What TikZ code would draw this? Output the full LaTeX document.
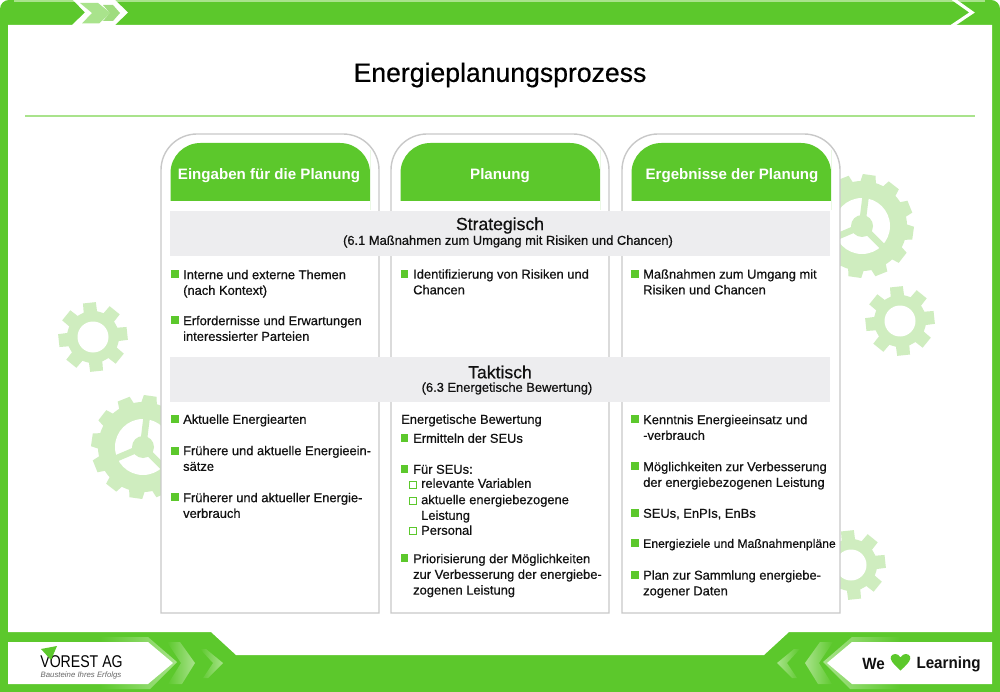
\documentclass[tikz,border=0pt]{standalone}
\usepackage{fontspec}
\setmainfont{Liberation Sans}
\newfontfamily\medfont[FakeBold=0.5]{Liberation Sans}
\usetikzlibrary{positioning,calc}
\definecolor{brand}{HTML}{5CC82C}
\definecolor{brandlight}{HTML}{A9E38C}
\definecolor{brandmid}{HTML}{9FDC7F}
\definecolor{gearpale}{HTML}{CFEDBF}
\definecolor{bandgray}{HTML}{EDEDEF}
\definecolor{linegray}{HTML}{C8C8C8}
\definecolor{ink}{HTML}{111111}
\tikzset{
  card/.style={draw=linegray,line width=1.4pt,fill=white},
  headtext/.style={text=white,font=\fontsize{15.1}{18}\bfseries\selectfont},
  bandbox/.style={fill=bandgray,minimum width=660pt,minimum height=45pt,inner sep=0pt},
  bandhead/.style={text=ink,font=\fontsize{17.6}{20}\medfont\selectfont,inner sep=0pt},
  bandsub/.style={text=ink,font=\fontsize{12.9}{15}\medfont\selectfont,inner sep=0pt},
  item/.style={anchor=north west,align=left,inner sep=0pt,yshift=6.4pt,text=ink,
    font=\fontsize{12.9}{15.7}\medfont\selectfont,execute at begin node=\strut},
  bullet/.style={fill=brand,minimum size=7.5pt,inner sep=0pt},
  subbullet/.style={draw=brand,fill=white,line width=.8pt,minimum size=7.5pt,inner sep=0pt},
}
\newcommand{\gearwheel}[6]{% cx, cy, body, tip, teeth, turn
  \fill[gearpale] (#1,#2) circle[radius=#3];
  \foreach \k in {1,...,#5}{
    \pgfmathsetmacro{\ang}{#6+\k*360/#5}
    \pgfmathsetmacro{\wid}{125/#5}
    \pgfmathsetmacro{\wit}{85/#5}
    \fill[gearpale] ($(#1,#2)+(\ang-\wid:#3-1)$) -- ($(#1,#2)+(\ang-\wit:#4)$)
      -- ($(#1,#2)+(\ang+\wit:#4)$) -- ($(#1,#2)+(\ang+\wid:#3-1)$) -- cycle;
  }
}
\newcommand{\spokewheel}[2]{% cx, cy
  \gearwheel{#1}{#2}{45}{52}{12}{8}
  \fill[white] (#1,#2) circle[radius=28];
  \foreach \a in {-83,45,157}{
    \draw[gearpale,line width=6.5pt] (#1,#2) -- ++(\a:29);
  }
  \fill[gearpale] (#1,#2) circle[radius=11];
}
\begin{document}
\begin{tikzpicture}[x=1pt,y=-1pt]
  \useasboundingbox (0,0) rectangle (1000,692);
  % frame
  \fill[white] (0,0) rectangle (1000,692);
  \fill[brand,rounded corners=9pt] (0,0) -- (1000,0) -- (1000,700) -- (0,700) -- cycle;
  \fill[white] (8,25) -- (992,25) -- (992,632) -- (789,632) -- (764,655) -- (236,655) -- (211,632) -- (8,632) -- cycle;
  \draw[brandlight,line width=1.5pt] (14,.8) -- (985,.8);
  % top chevrons
  \fill[white] (73,0) -- (115,0) -- (128,12.5) -- (115,25) -- (72,25) -- (85,12.5) -- cycle;
  \fill[brandlight] (80,3) -- (98,3) -- (110.5,13) -- (99,23.5) -- (82,23.5) -- (92,13) -- cycle;
  \fill[brandmid] (103,5) -- (113,5) -- (120,13) -- (113,21) -- (103,21) -- (110,13) -- cycle;
  \draw[white,line width=3.2pt] (953,-1) -- (972,12.5) -- (952,26);
  % gears
  \gearwheel{93}{337}{26}{35}{8}{-6}
  \fill[white] (93,337) circle[radius=15.5];
  \spokewheel{143}{447}
  \spokewheel{862}{226}
  \gearwheel{900}{321}{26}{35}{8}{-6}
  \fill[white] (900,321) circle[radius=15.5];
  \gearwheel{851}{565}{26}{35}{8}{-6}
  \fill[white] (851,565) circle[radius=15.5];
  % title
  \node[inner sep=0pt,text=black,font=\fontsize{26.6}{30}\medfont\selectfont] (title) at (500,75) {Energieplanungsprozess};
  \draw[brandlight,line width=1.2pt] (25,116) -- (975,116);
  % columns
  \foreach \x in {161,391,622}{
    \draw[card] (\x,400) [rounded corners=36pt] -- (\x,134) -- (\x+218,134) -- (\x+218,400)
      [sharp corners] -- (\x+218,613) -- (\x,613) -- cycle;
    \fill[brand] (\x+9.5,180) [rounded corners=30pt] -- (\x+9.5,143) -- (\x+209,143) -- (\x+209,180)
      [sharp corners] -- (\x+209,201) -- (\x+9.5,201) -- cycle;
  }
  \node[headtext] (heada) at (269,176) {Eingaben für die Planung};
  \node[headtext] (headb) at (500,176) {Planung};
  \node[headtext] (headc) at (732,176) {Ergebnisse der Planung};
  % bands
  \node[bandbox] (strategic) at (500,233.5) {};
  \node[bandhead] (strategict) at (500,225.5) {Strategisch};
  \node[bandsub] (strategics) at (508,241.5) {(6.1 Maßnahmen zum Umgang mit Risiken und Chancen)};
  \node[bandbox] (tactical) at (500,379.5) {};
  \node[bandhead] (tacticalt) at (500,372) {Taktisch};
  \node[bandsub] (tacticals) at (507,388.5) {(6.3 Energetische Bewertung)};
  % bullets
  \foreach \n/\x/\y in {a/175/274,b/175/320,c/175/419,d/175/451,e/175/497,
    f/404.5/274,g/404.5/438,h/404.5/469,i/404.5/558,
    j/635/274,k/635/419,l/635/466,m/635/513,n/635/543,o/635/575}
    {\node[bullet] (dot\n) at (\x,\y) {};}
  \foreach \n/\y in {p/485,q/501,r/531}
    {\node[subbullet] (box\n) at (413,\y) {};}
  % texts
  \foreach \n/\x/\y/\txt in {
    a/183/276/{Interne und externe Themen\\(nach Kontext)},
    b/183/322/{Erfordernisse und Erwartungen\\interessierter Parteien},
    c/183/419/{Aktuelle Energiearten},
    d/183/452/{Frühere und aktuelle Energieein-\\sätze},
    e/183/499/{Früherer und aktueller Energie-\\verbrauch},
    f/413/275.5/{Identifizierung von Risiken und\\Chancen},
    t/401/419/{Energetische Bewertung},
    g/413/438/{Ermitteln der SEUs},
    h/413/469/{Für SEUs:},
    p/421/483/{relevante Variablen},
    q/421/501/{aktuelle energiebezogene\\Leistung},
    r/421/530/{Personal},
    i/413/560/{Priorisierung der Möglichkeiten\\zur Verbesserung der energiebe-\\zogenen Leistung},
    j/643/275.5/{Maßnahmen zum Umgang mit\\Risiken und Chancen},
    k/643/421/{Kenntnis Energieeinsatz und\\-verbrauch},
    l/643/468/{Möglichkeiten zur Verbesserung\\der energiebezogenen Leistung},
    m/643/513/{SEUs, EnPIs, EnBs},
    n/643/543/{\fontsize{12.2}{15.7}\selectfont Energieziele und Maßnahmenpläne},
    o/643/576.5/{Plan zur Sammlung energiebe-\\zogener Daten}}
    {\node[item] (txt\n) at (\x,\y) {\txt};}
  % footer left
  \shade[left color=brand,right color=brandlight] (100,637) -- (148,637) -- (177,662) -- (150,689) -- (100,689) -- cycle;
  \fill[white] (8,642) -- (148,642) -- (173,663) -- (148,684) -- (8,684) -- cycle;
  \shade[left color=brand,right color=brandlight] (167,642) -- (180,642) -- (195,663) -- (182,684) -- (168,684) -- (181,663) -- cycle;
  \shade[left color=brand,right color=brandlight] (200,649) -- (206,649) -- (223,663) -- (208,678) -- (203,678) -- (213,663) -- cycle;
  \node[inner sep=0pt,text=black,xscale=.83,transform shape,font=\fontsize{17}{20}\selectfont] (vorest) at (81.5,662) {VOREST AG};
  \node[inner sep=0pt,text=black!60,font=\fontsize{7.8}{9}\itshape\selectfont] (claim) at (81,675) {Bausteine Ihres Erfolgs};
  \fill[brand] (41,649) -- (57,646) -- (51,660) -- cycle;
  % footer right
  \shade[right color=brand,left color=brandlight] (900,637) -- (852,637) -- (823,662) -- (850,689) -- (900,689) -- cycle;
  \fill[white] (992,642) -- (852,642) -- (827,663) -- (852,684) -- (992,684) -- cycle;
  \shade[right color=brand,left color=brandlight] (833,642) -- (820,642) -- (805,663) -- (818,684) -- (832,684) -- (819,663) -- cycle;
  \shade[right color=brand,left color=brandlight] (800,649) -- (794,649) -- (777,663) -- (792,678) -- (797,678) -- (787,663) -- cycle;
  \node[inner sep=0pt,text=ink,xscale=.93,transform shape,font=\fontsize{16.3}{20}\bfseries\selectfont] (we) at (873.5,664) {We};
  \node[inner sep=0pt,text=ink,xscale=.93,transform shape,font=\fontsize{16.3}{20}\bfseries\selectfont] (learning) at (948.5,664) {Learning};
  \fill[brand] (900.5,670.5) .. controls (891,662) and (890,659) .. (891,656.5)
    .. controls (892,653.5) and (898,652.5) .. (900.5,657.5)
    .. controls (903,652.5) and (909,653.5) .. (910,656.5)
    .. controls (911,659) and (910,662) .. (900.5,670.5) -- cycle;
\end{tikzpicture}
\end{document}
